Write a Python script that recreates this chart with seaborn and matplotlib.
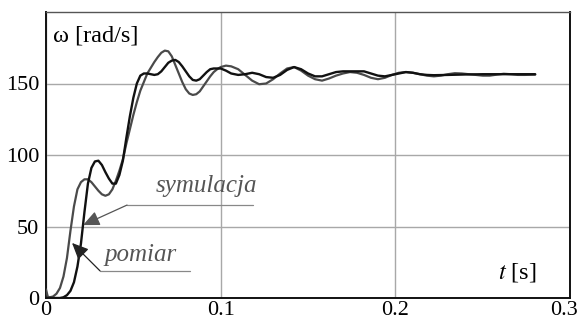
import matplotlib
matplotlib.use("Agg")
import matplotlib.pyplot as plt
import matplotlib.transforms as mtransforms
import seaborn as sns
import pandas as pd

# pomiar (measurement) - gray curve
t_pom = [0.0, 0.001, 0.002, 0.004, 0.006, 0.008, 0.010, 0.012, 0.014, 0.016, 0.018, 0.020,
         0.022, 0.024, 0.026, 0.028, 0.030, 0.032, 0.034, 0.036, 0.038, 0.040, 0.042,
         0.044, 0.046, 0.048, 0.050, 0.052, 0.054, 0.056, 0.058, 0.060, 0.062, 0.064,
         0.066, 0.068, 0.070, 0.072, 0.074, 0.076, 0.078, 0.080, 0.082, 0.084, 0.086,
         0.088, 0.090, 0.092, 0.094, 0.096, 0.098, 0.100, 0.103, 0.106, 0.110, 0.114,
         0.118, 0.122, 0.126, 0.130, 0.134, 0.138, 0.142, 0.146, 0.150, 0.154, 0.158,
         0.162, 0.166, 0.170, 0.174, 0.178, 0.182, 0.186, 0.190, 0.194, 0.198, 0.202,
         0.206, 0.210, 0.214, 0.218, 0.222, 0.226, 0.230, 0.234, 0.238, 0.242, 0.246,
         0.250, 0.254, 0.258, 0.262, 0.266, 0.270, 0.274, 0.280]
w_pom = [6, 1, 0.5, 1, 3, 7, 15, 28, 47, 64, 76, 81,
         83, 83, 81, 78, 75, 72.5, 71.5, 72.5, 76, 82, 89,
         97, 108, 118, 128, 137, 145, 151, 157, 161, 165, 168.5,
         171.5, 173, 172.5, 169, 163, 157, 151, 146, 143, 142, 142.5,
         144.5, 148, 151.5, 155, 158, 160, 161.5, 162.5, 162, 160, 156,
         152, 149.5, 150, 153, 157, 160.5, 161.5, 159, 155.5, 153, 152,
         153.5, 155.5, 157, 158, 157.5, 156, 154, 153, 154, 156, 157.5,
         158, 157.5, 156.5, 155.5, 155, 155.5, 156.5, 157.2, 157, 156.5, 156,
         155.5, 155.5, 156.2, 156.8, 156.5, 156, 156, 156.2]

# symulacja (simulation) - black curve
t_sym = [0.0, 0.004, 0.008, 0.010, 0.012, 0.014, 0.016, 0.018, 0.020, 0.022, 0.024,
         0.026, 0.028, 0.030, 0.032, 0.034, 0.036, 0.038, 0.040, 0.042, 0.044, 0.046,
         0.048, 0.050, 0.052, 0.054, 0.056, 0.058, 0.060, 0.062, 0.064, 0.066, 0.068,
         0.070, 0.072, 0.074, 0.076, 0.078, 0.080, 0.082, 0.084, 0.086, 0.088, 0.090,
         0.092, 0.094, 0.096, 0.098, 0.100, 0.103, 0.106, 0.110, 0.114, 0.118, 0.122,
         0.126, 0.130, 0.134, 0.138, 0.142, 0.146, 0.150, 0.154, 0.158, 0.162, 0.166,
         0.170, 0.174, 0.178, 0.182, 0.186, 0.190, 0.194, 0.198, 0.202, 0.206, 0.210,
         0.214, 0.218, 0.222, 0.230, 0.240, 0.250, 0.260, 0.270, 0.280]
w_sym = [0, 0, 0, 0.5, 2, 5, 11, 22, 38, 60, 80,
         91, 95.5, 96, 93, 88, 83.5, 80, 80, 86, 96, 112,
         127, 140, 150, 155.5, 157, 157, 156.5, 156, 156.5, 158.5, 161.5,
         164.5, 166, 166.5, 165, 162, 158.5, 155, 152.5, 152, 153, 155.5,
         158, 160, 160.5, 160.5, 160.5, 159, 157, 156, 156.5, 157.5, 156.5,
         154.5, 154, 156, 159.5, 161.5, 160, 157, 155, 155, 156.5, 158,
         158.5, 158.5, 158.5, 158.5, 157, 155.5, 155, 156, 157, 158, 157.5,
         156.5, 156, 155.8, 156, 156.3, 156.5, 156.5, 156.5, 156.5]

x_ticks = [0, 0.1, 0.2, 0.3]
x_tick_labels = ["0", "0.1", "0.2", "0.3"]
y_ticks = [0, 50, 100, 150]
y_tick_labels = ["0", "50", "100", "150"]

sns.set_style("white")
plt.rcParams["font.family"] = ["Liberation Serif", "DejaVu Serif"]
plt.rcParams["mathtext.fontset"] = "stix"

fig = plt.figure(figsize=(5.8, 3.2), dpi=100)
ax = fig.add_axes([0.0793, 0.06875, 0.9037, 0.89375])

df_pom = pd.DataFrame({"t": t_pom, "w": w_pom})
df_sym = pd.DataFrame({"t": t_sym, "w": w_sym})
sns.lineplot(data=df_pom, x="t", y="w", ax=ax, color="#4a4a4a", lw=1.6, sort=False, zorder=3)
sns.lineplot(data=df_sym, x="t", y="w", ax=ax, color="#111111", lw=1.7, sort=False, zorder=4)

ax.set_xlim(0, 0.3)
ax.set_ylim(0, 200)
ax.set_xticks(x_ticks)
ax.set_xticklabels(x_tick_labels)
ax.set_yticks(y_ticks)
ax.set_yticklabels(y_tick_labels)
ax.tick_params(axis="both", length=0, labelsize=16, colors="black")
ax.tick_params(axis="x", pad=2)
ax.tick_params(axis="y", pad=5)
ax.set_xlabel("")
ax.set_ylabel("")
ax.grid(True, color="#a8a8a8", lw=1.0)
ax.set_axisbelow(True)

# keep last x tick label inside the canvas
last = ax.get_xticklabels()[-1]
last.set_transform(last.get_transform() + mtransforms.ScaledTranslation(-6 / 100, 0, fig.dpi_scale_trans))

for side in ["left", "bottom", "right"]:
    ax.spines[side].set_color("#111111")
    ax.spines[side].set_linewidth(1.4)
ax.spines["top"].set_color("#555555")
ax.spines["top"].set_linewidth(1.0)

ax.text(0.004, 183, "ω [rad/s]", fontsize=17.5, color="black", va="center", ha="left")
ax.text(0.281, 17.5, "$t$ [s]", fontsize=17.5, color="black", va="center", ha="right")

# annotation: symulacja
ax.text(0.0916, 78, "symulacja", fontsize=18, style="italic", color="#555555",
        ha="center", va="center")
ax.plot([0.0464, 0.1185], [65, 65], color="#888888", lw=0.9, zorder=5)
ax.annotate("", xy=(0.0212, 51), xytext=(0.0464, 65),
            arrowprops=dict(arrowstyle="-|>,head_length=1.0,head_width=0.45",
                            color="#555555", lw=0.9, shrinkA=0, shrinkB=0), zorder=5)

# annotation: pomiar
ax.text(0.0539, 30, "pomiar", fontsize=18, style="italic", color="#555555",
        ha="center", va="center")
ax.plot([0.0309, 0.0824], [19, 19], color="#888888", lw=0.9, zorder=5)
ax.annotate("", xy=(0.0149, 38.5), xytext=(0.0309, 19),
            arrowprops=dict(arrowstyle="-|>,head_length=1.0,head_width=0.45",
                            color="#222222", lw=0.9, shrinkA=0, shrinkB=0), zorder=5)

fig.savefig("out.png", dpi=100)
